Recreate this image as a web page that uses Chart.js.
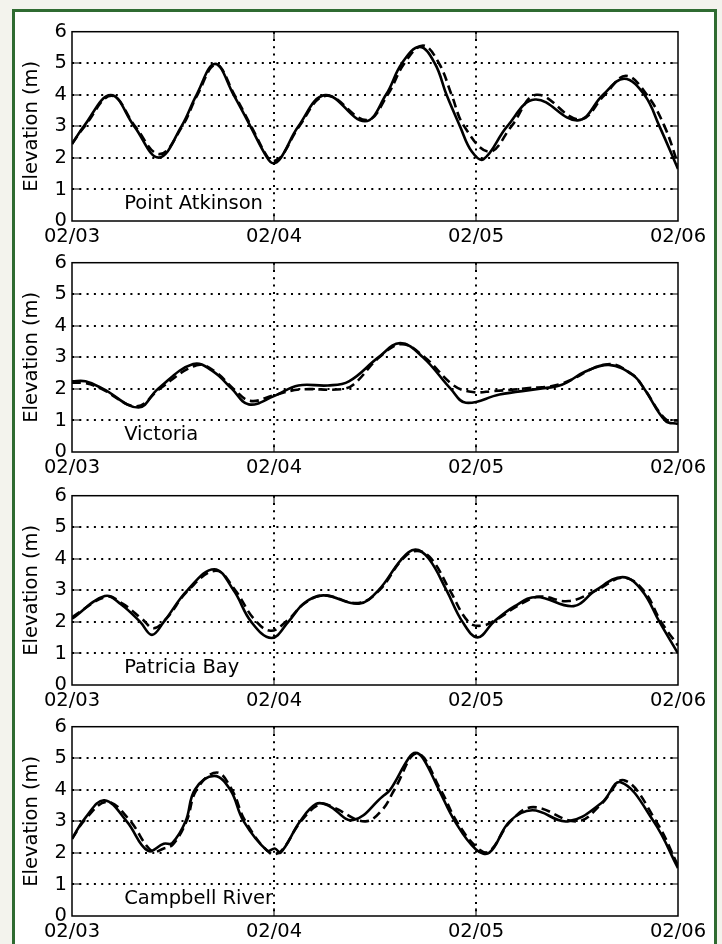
<!DOCTYPE html>
<html>
<head>
<meta charset="utf-8">
<script src="https://cdn.jsdelivr.net/npm/chart.js@4.4.1/dist/chart.umd.min.js"></script>
<style>
  body { margin: 0; width: 722px; height: 944px; overflow: hidden; position: relative; background: #f3f3ed; }
  #frame { position: absolute; left: 12px; top: 9px; width: 699px; height: 960px; border: 3px solid #2f6b31; background: #fff; }
  .panel { position: absolute; left: 0; width: 722px; height: 234px; }
</style>
</head>
<body>
<div id="frame"></div>
<div class="panel" style="top:15px"><canvas id="c0" width="722" height="234"></canvas></div>
<div class="panel" style="top:246px"><canvas id="c1" width="722" height="234"></canvas></div>
<div class="panel" style="top:479px"><canvas id="c2" width="722" height="234"></canvas></div>
<div class="panel" style="top:710px"><canvas id="c3" width="722" height="234"></canvas></div>
<script>
// ticks
const xTickLabels = ["02/03", "02/04", "02/05", "02/06"];
const yTicks = [0, 1, 2, 3, 4, 5, 6];
const stationNames = ["Point Atkinson", "Victoria", "Patricia Bay", "Campbell River"];

// hours since 02/03 00:00 and elevation (m); obs = solid, mod = dashed
const paObsH = [0, 1.4, 4.6, 7.4, 10.3, 13.0, 14.8, 17.0, 19.2, 21.2, 23.2, 23.9, 24.8, 26.9, 30.1, 34.8, 37.3, 39.2, 41.3, 43.1, 44.5, 46.1, 47.5, 48.9, 51.7, 55.0, 60.1, 63.1, 65.6, 68.0, 69.8, 72];
const paObsV = [2.44, 3.0, 3.99, 3.0, 2.01, 3.0, 4.0, 4.98, 4.0, 3.0, 2.0, 1.83, 2.0, 3.0, 3.99, 3.16, 4.0, 5.0, 5.52, 5.0, 4.0, 3.0, 2.2, 1.96, 3.0, 3.85, 3.19, 4.0, 4.51, 4.0, 3.0, 1.65];
const paModH = [0, 1.5, 4.7, 7.5, 10.4, 13.1, 14.9, 17.1, 19.3, 21.3, 23.3, 24.0, 24.9, 27.0, 30.2, 35.0, 37.5, 39.5, 41.7, 43.6, 45.1, 46.6, 49.6, 52.2, 55.2, 60.3, 63.3, 65.8, 68.3, 70.4, 72];
const paModV = [2.45, 3.0, 3.97, 3.0, 2.12, 3.0, 4.0, 4.95, 4.0, 3.0, 2.0, 1.9, 2.05, 3.0, 3.97, 3.2, 4.0, 5.0, 5.56, 5.0, 4.0, 3.0, 2.2, 3.0, 4.0, 3.22, 4.0, 4.6, 4.0, 3.0, 1.8];

const viObsH = [0, 1.6, 3.7, 7.9, 10.2, 14.4, 16.8, 19.0, 21.0, 24.0, 26.9, 30.4, 32.9, 36.4, 39.0, 41.7, 45.0, 46.8, 50.8, 55.4, 58.2, 61.0, 63.8, 66.6, 68.0, 70.5, 72];
const viObsV = [2.24, 2.24, 2.0, 1.41, 2.0, 2.79, 2.55, 2.0, 1.51, 1.77, 2.11, 2.11, 2.24, 3.0, 3.45, 3.0, 2.0, 1.56, 1.82, 2.0, 2.13, 2.55, 2.76, 2.45, 2.0, 0.99, 0.89];
const viModH = [0, 1.6, 3.5, 7.7, 10.4, 14.8, 17.0, 19.2, 21.2, 24.0, 27.0, 32.0, 33.5, 36.5, 39.2, 41.9, 45.4, 47.6, 50.0, 54.0, 58.0, 63.6, 66.6, 68.0, 70.5, 72];
const viModV = [2.2, 2.18, 2.0, 1.45, 2.0, 2.75, 2.55, 2.0, 1.62, 1.8, 1.98, 1.99, 2.15, 3.0, 3.42, 3.0, 2.1, 1.9, 1.93, 2.02, 2.15, 2.78, 2.45, 2.0, 1.05, 1.0];

const pbObsH = [0, 3.9, 5.8, 8.1, 9.5, 10.9, 13.7, 16.9, 19.2, 21.3, 23.7, 25.7, 27.6, 29.9, 34.1, 36.4, 39.2, 40.8, 42.4, 44.5, 46.4, 48.2, 50.1, 52.6, 55.2, 59.6, 62.2, 65.4, 67.7, 69.8, 72];
const pbObsV = [2.1, 2.82, 2.56, 2.0, 1.59, 2.0, 3.0, 3.67, 3.0, 2.0, 1.49, 2.0, 2.6, 2.84, 2.58, 3.0, 4.0, 4.29, 4.0, 3.0, 2.0, 1.51, 2.0, 2.5, 2.79, 2.5, 3.0, 3.42, 3.0, 2.0, 1.0];
const pbModH = [0, 4.1, 6.0, 8.3, 9.7, 11.2, 13.8, 17.1, 19.4, 21.6, 23.6, 25.6, 27.7, 30.0, 34.0, 36.5, 39.3, 41.0, 42.7, 44.9, 47.1, 48.7, 50.6, 52.9, 55.5, 59.0, 62.3, 65.5, 67.9, 70.0, 72];
const pbModV = [2.15, 2.8, 2.58, 2.1, 1.8, 2.1, 3.0, 3.62, 3.0, 2.1, 1.72, 2.05, 2.6, 2.84, 2.6, 3.0, 4.0, 4.25, 4.0, 3.0, 2.0, 1.88, 2.1, 2.5, 2.8, 2.66, 3.0, 3.4, 3.0, 2.0, 1.25];

const crObsH = [0, 1.6, 3.85, 6.5, 9.0, 10.9, 11.9, 13.5, 14.6, 16.9, 18.8, 20.4, 23.2, 24.1, 24.8, 27.1, 29.0, 30.4, 33.4, 36.9, 37.8, 40.0, 40.8, 41.7, 43.6, 45.5, 48.0, 49.6, 52.0, 54.7, 58.9, 62.9, 65.2, 69.1, 72];
const crObsV = [2.45, 3.12, 3.67, 3.0, 2.07, 2.29, 2.31, 3.0, 4.0, 4.44, 4.0, 3.0, 2.07, 2.14, 2.01, 3.0, 3.55, 3.51, 3.04, 3.79, 4.0, 5.0, 5.17, 5.0, 4.0, 3.0, 2.11, 2.01, 3.0, 3.35, 3.0, 3.58, 4.24, 3.0, 1.52];
const crModH = [0, 1.7, 4.2, 6.8, 9.5, 10.9, 12.0, 13.6, 14.8, 17.2, 19.0, 20.6, 23.5, 24.8, 27.2, 29.5, 31.0, 34.8, 36.9, 38.3, 41.0, 43.8, 45.7, 48.2, 49.6, 52.1, 54.8, 60.0, 62.9, 65.6, 69.4, 72];
const crModV = [2.45, 3.1, 3.62, 3.05, 2.05, 2.14, 2.27, 3.0, 4.0, 4.55, 4.0, 3.0, 2.0, 2.05, 3.0, 3.55, 3.45, 3.0, 3.38, 4.0, 5.15, 4.0, 3.0, 2.15, 2.05, 3.0, 3.45, 3.0, 3.55, 4.3, 3.0, 1.6];

// where the station name sits (hours, metres)
const labelHour = 6.2;
const labelLevel = 0.37;

const obsSeries = [[paObsH, paObsV], [viObsH, viObsV], [pbObsH, pbObsV], [crObsH, crObsV]];
const modSeries = [[paModH, paModV], [viModH, viModV], [pbModH, pbModV], [crModH, crModV]];

function toPoints(hours, vals) {
    return hours.map((h, i) => ({ x: h, y: vals[i] }));
}

Chart.defaults.font.family = "'DejaVu Sans'";
Chart.defaults.font.size = 19.5;
Chart.defaults.color = "#000";

// frame, inward tick marks and the station name
const decor = {
    id: "decor",
    afterDraw(chart, args, opts) {
        const { ctx, chartArea: a, scales: { x, y } } = chart;
        ctx.save();
        ctx.strokeStyle = "#000";
        ctx.lineWidth = 1;
        ctx.beginPath();
        yTicks.forEach(v => {
            if (v > 0 && v < 6) {
                const py = Math.round(y.getPixelForValue(v));
                ctx.moveTo(a.left, py); ctx.lineTo(a.left + 8, py);
                ctx.moveTo(a.right - 8, py); ctx.lineTo(a.right, py);
            }
        });
        [24, 48].forEach(v => {
            const px = Math.round(x.getPixelForValue(v));
            ctx.moveTo(px, a.bottom); ctx.lineTo(px, a.bottom - 8);
            ctx.moveTo(px, a.top); ctx.lineTo(px, a.top + 8);
        });
        ctx.stroke();
        ctx.lineWidth = 1.5;
        ctx.strokeRect(a.left, a.top, a.right - a.left, a.bottom - a.top);
        ctx.font = "19.5px 'DejaVu Sans'";
        ctx.fillStyle = "#000";
        ctx.textBaseline = "alphabetic";
        ctx.fillText(opts.station, x.getPixelForValue(labelHour), y.getPixelForValue(labelLevel));
        ctx.restore();
    }
};

stationNames.forEach((name, i) => {
    const el = document.getElementById("c" + i);
    new Chart(el, {
        type: "line",
        data: {
            datasets: [
                {
                    label: "model",
                    data: toPoints(modSeries[i][0], modSeries[i][1]),
                    borderColor: "#000",
                    borderWidth: 2.6,
                    borderDash: [9, 5],
                    pointRadius: 0,
                    tension: 0.4
                },
                {
                    label: "observed",
                    data: toPoints(obsSeries[i][0], obsSeries[i][1]),
                    borderColor: "#000",
                    borderWidth: 2.6,
                    pointRadius: 0,
                    tension: 0.4
                }
            ]
        },
        options: {
            responsive: false,
            animation: false,
            events: [],
            layout: { padding: { top: 14, right: 44, left: 0, bottom: 0 } },
            plugins: {
                legend: { display: false },
                tooltip: { enabled: false },
                decor: { station: name }
            },
            scales: {
                x: {
                    type: "linear",
                    min: 0,
                    max: 72,
                    afterFit: s => { s.height = 28; },
                    ticks: {
                        stepSize: 24,
                        autoSkip: false,
                        maxRotation: 0,
                        padding: 4,
                        callback: v => xTickLabels[v / 24]
                    },
                    grid: {
                        drawTicks: false,
                        lineWidth: 2,
                        color: c => (c.tick.value === 24 || c.tick.value === 48) ? "#000" : "rgba(0,0,0,0)"
                    },
                    border: { display: false, dash: [2, 5.3] }
                },
                y: {
                    min: 0,
                    max: 6,
                    afterFit: s => { s.width = 72; },
                    ticks: { stepSize: 1, padding: 5, autoSkip: false },
                    title: { display: true, text: "Elevation (m)", padding: { top: 20, bottom: 0 } },
                    grid: {
                        drawTicks: false,
                        lineWidth: 2,
                        color: c => (c.tick.value > 0 && c.tick.value < 6) ? "#000" : "rgba(0,0,0,0)"
                    },
                    border: { display: false, dash: [2, 5.3] }
                }
            }
        },
        plugins: [decor]
    });
});
</script>
</body>
</html>
